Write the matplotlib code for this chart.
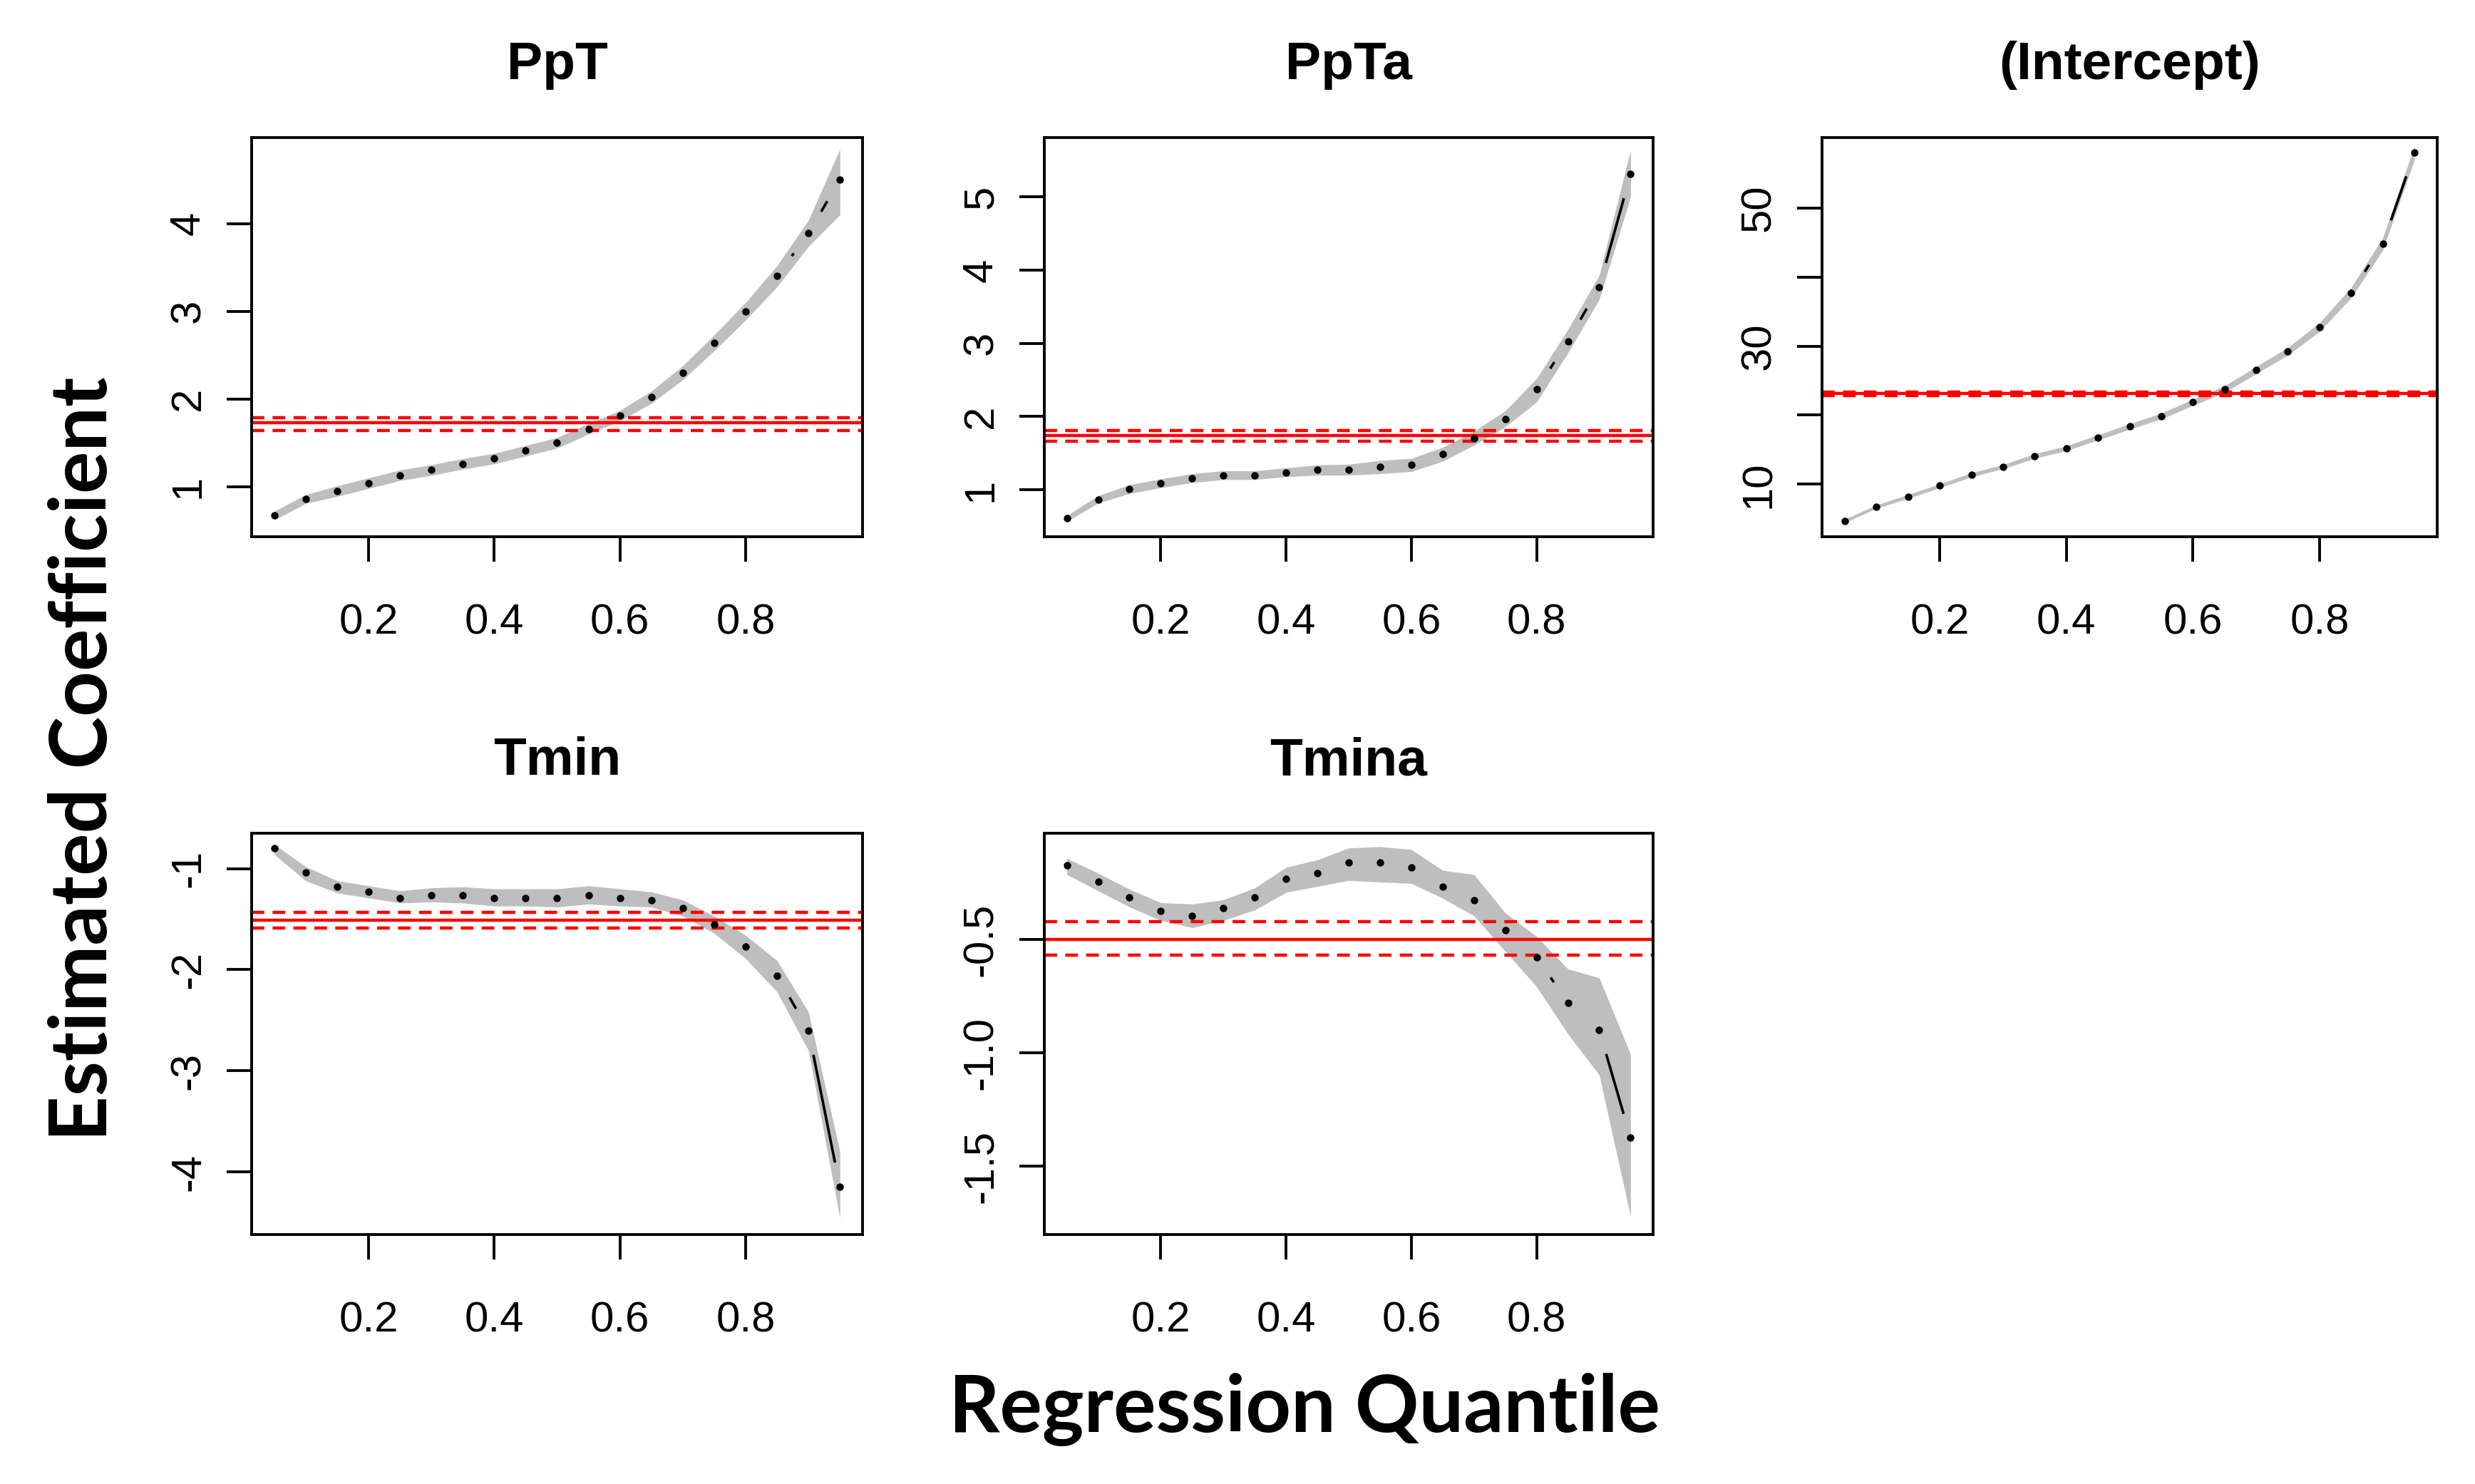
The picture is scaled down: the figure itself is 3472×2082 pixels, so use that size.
import matplotlib
matplotlib.use("Agg")
import matplotlib.pyplot as plt
import numpy as np

plt.rcParams['axes.unicode_minus'] = False
plt.rcParams['font.family'] = ['Liberation Sans', 'DejaVu Sans']

# quantiles
taus = [0.05, 0.10, 0.15, 0.20, 0.25, 0.30, 0.35, 0.40, 0.45, 0.50,
        0.55, 0.60, 0.65, 0.70, 0.75, 0.80, 0.85, 0.90, 0.95]

# PpT
ppt_coef = [0.67, 0.86, 0.95, 1.04, 1.13, 1.19, 1.26, 1.32, 1.41, 1.50,
            1.66, 1.81, 2.02, 2.30, 2.64, 3.00, 3.40, 3.89, 4.50]
ppt_lo = [0.62, 0.81, 0.89, 0.98, 1.07, 1.13, 1.20, 1.26, 1.35, 1.44,
          1.60, 1.75, 1.95, 2.22, 2.55, 2.90, 3.28, 3.74, 4.10]
ppt_hi = [0.72, 0.91, 1.01, 1.10, 1.19, 1.25, 1.32, 1.38, 1.47, 1.56,
          1.72, 1.87, 2.09, 2.38, 2.73, 3.10, 3.52, 4.04, 4.85]

# PpTa
ppta_coef = [0.61, 0.87, 1.01, 1.09, 1.16, 1.20, 1.20, 1.24, 1.27, 1.27,
             1.31, 1.34, 1.49, 1.70, 1.97, 2.37, 3.03, 3.77, 5.31]
ppta_lo = [0.57, 0.82, 0.95, 1.03, 1.10, 1.14, 1.14, 1.18, 1.20, 1.20,
           1.22, 1.25, 1.39, 1.61, 1.86, 2.20, 2.87, 3.60, 5.00]
ppta_hi = [0.65, 0.92, 1.07, 1.15, 1.22, 1.26, 1.26, 1.30, 1.34, 1.35,
           1.40, 1.43, 1.58, 1.80, 2.08, 2.52, 3.19, 3.93, 5.64]

# (Intercept)
int_coef = [4.70, 6.74, 8.22, 9.79, 11.36, 12.54, 14.07, 15.21, 16.78, 18.35,
            19.87, 21.86, 23.77, 26.53, 29.24, 32.75, 37.75, 44.79, 58.0]
int_lo = [4.45, 6.50, 7.95, 9.50, 11.05, 12.25, 13.75, 14.85, 16.40, 17.95,
          19.45, 21.40, 23.30, 26.00, 28.70, 32.10, 37.00, 43.90, 57.0]
int_hi = [4.95, 7.00, 8.50, 10.05, 11.65, 12.85, 14.40, 15.55, 17.15, 18.75,
          20.30, 22.30, 24.25, 27.05, 29.80, 33.40, 38.50, 45.70, 59.0]

# Tmin
tmin_coef = [-0.80, -1.04, -1.18, -1.23, -1.29, -1.26, -1.26, -1.29, -1.29, -1.29,
             -1.26, -1.29, -1.31, -1.39, -1.55, -1.77, -2.06, -2.60, -4.15]
tmin_lo = [-0.86, -1.12, -1.24, -1.29, -1.34, -1.33, -1.34, -1.37, -1.37, -1.38,
           -1.35, -1.37, -1.38, -1.47, -1.64, -1.89, -2.22, -2.80, -4.46]
tmin_hi = [-0.76, -0.98, -1.12, -1.17, -1.22, -1.19, -1.18, -1.20, -1.20, -1.20,
           -1.17, -1.20, -1.23, -1.31, -1.47, -1.66, -1.91, -2.42, -3.80]

# Tmina
tmina_coef = [-0.173, -0.244, -0.316, -0.374, -0.397, -0.362, -0.316, -0.232, -0.209, -0.161,
              -0.161, -0.184, -0.268, -0.327, -0.458, -0.577, -0.779, -0.899, -1.374]
tmina_lo = [-0.214, -0.286, -0.357, -0.416, -0.448, -0.416, -0.370, -0.292, -0.266, -0.240,
            -0.247, -0.253, -0.318, -0.396, -0.552, -0.708, -0.916, -1.097, -1.721]
tmina_hi = [-0.143, -0.208, -0.279, -0.338, -0.344, -0.325, -0.273, -0.182, -0.149, -0.097,
            -0.091, -0.104, -0.195, -0.214, -0.383, -0.487, -0.630, -0.669, -1.006]

# OLS estimate and its interval (red lines)
ols_est = [1.73, 1.74, 23.1, -1.51, -0.50]
ols_lo = [1.64, 1.66, 22.8, -1.59, -0.57]
ols_hi = [1.79, 1.81, 23.4, -1.43, -0.42]

names = ['PpT', 'PpTa', '(Intercept)', 'Tmin', 'Tmina']
coefs = [ppt_coef, ppta_coef, int_coef, tmin_coef, tmina_coef]
lows = [ppt_lo, ppta_lo, int_lo, tmin_lo, tmina_lo]
highs = [ppt_hi, ppta_hi, int_hi, tmin_hi, tmina_hi]

ytick_vals = [[1, 2, 3, 4], [1, 2, 3, 4, 5], [10, 20, 30, 40, 50],
              [-4, -3, -2, -1], [-1.5, -1.0, -0.5]]
ytick_labs = [['1', '2', '3', '4'], ['1', '2', '3', '4', '5'],
              ['10', '', '30', '', '50'], ['-4', '-3', '-2', '-1'],
              ['-1.5', '-1.0', '-0.5']]
xtick_vals = [0.2, 0.4, 0.6, 0.8]

# layout (pixels -> figure fractions)
W, H = 3473, 2082
ylims = [(0.43, 4.98), (0.36, 5.81), (2.4, 60.2), (-4.62, -0.65), (-1.80, -0.032)]
boxes = [(353, 1210, 193, 753), (1465, 2319, 193, 753), (2556, 3419, 193, 753),
         (353, 1210, 1169, 1732), (1465, 2319, 1169, 1732)]
rects = [[l / W, 1 - b / H, (r - l) / W, (b - t) / H] for l, r, t, b in boxes]

GAP = 35  # pixels left open around each point (R type="b")
LW = 2.6


def type_b(ax, x, y):
    pts = ax.transData.transform(np.column_stack([x, y]))
    inv = ax.transData.inverted()
    for p0, p1 in zip(pts[:-1], pts[1:]):
        d = np.hypot(*(p1 - p0))
        if d <= 2 * GAP:
            continue
        u = (p1 - p0) / d
        a, b = inv.transform([p0 + u * GAP, p1 - u * GAP])
        ax.plot([a[0], b[0]], [a[1], b[1]], color='black', lw=LW,
                solid_capstyle='butt', zorder=3)


fig = plt.figure(figsize=(W / 100, H / 100), dpi=100)

for i in range(5):
    ax = fig.add_axes(rects[i])
    ax.set_xlim(0.014, 0.986)
    ax.set_ylim(*ylims[i])

    ax.fill_between(taus, lows[i], highs[i], color='#bebebe', lw=0, zorder=1)
    type_b(ax, taus, coefs[i])
    ax.plot(taus, coefs[i], 'o', color='black', ms=7.5, mew=0, zorder=4)

    ax.axhline(ols_est[i], color='red', lw=3.2, zorder=2)
    ax.axhline(ols_lo[i], color='red', lw=3.2, dashes=(4, 2.6), zorder=2)
    ax.axhline(ols_hi[i], color='red', lw=3.2, dashes=(4, 2.6), zorder=2)

    ax.set_xticks(xtick_vals)
    ax.set_xticklabels(['0.2', '0.4', '0.6', '0.8'])
    ax.set_yticks(ytick_vals[i])
    ax.set_yticklabels(ytick_labs[i], rotation=90, va='center')

    for s in ax.spines.values():
        s.set_linewidth(2.8)
    ax.tick_params(axis='both', length=25, width=2.8, labelsize=43)
    ax.tick_params(axis='x', pad=42)
    ax.tick_params(axis='y', pad=19)

    ax.set_title(names[i], fontsize=54, fontweight='bold', pad=59)

fig.text(150 / W, 1 - 1065 / H, 'Estimated Coefficient', rotation=90,
         rotation_mode='anchor', ha='center', va='baseline',
         fontsize=80, fontweight='bold', family=['Lato', 'DejaVu Sans'])
fig.text(1830 / W, 1 - 2009 / H, 'Regression Quantile',
         ha='center', va='baseline',
         fontsize=80, fontweight='bold', family=['Lato', 'DejaVu Sans'])

fig.savefig('out.png', dpi=100, facecolor='white')
